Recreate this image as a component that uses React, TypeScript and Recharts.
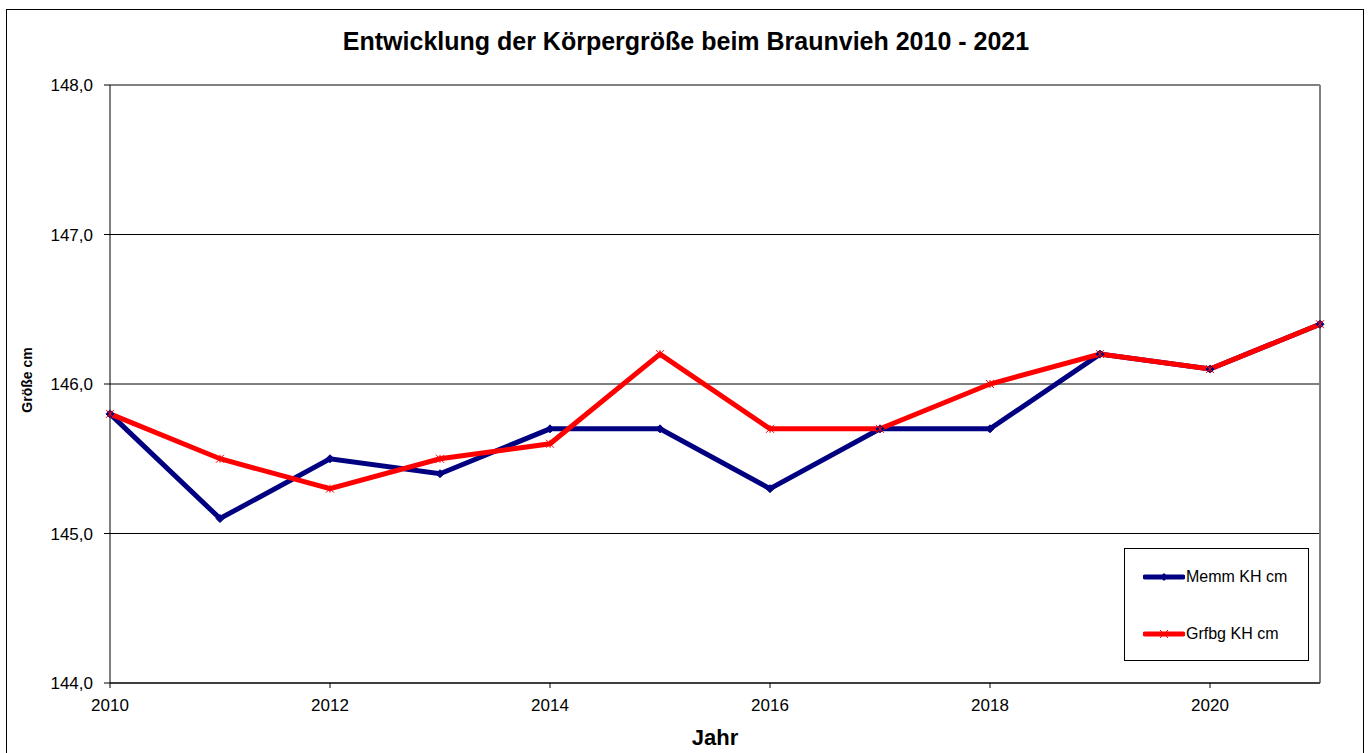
import React from 'react';
import {
    LineChart,
    Line,
    XAxis,
    YAxis,
    CartesianGrid,
    ReferenceLine,
    Legend,
    Label
} from 'recharts';

const years = [2010, 2011, 2012, 2013, 2014, 2015, 2016, 2017, 2018, 2019, 2020, 2021];
const memmKH = [145.8, 145.1, 145.5, 145.4, 145.7, 145.7, 145.3, 145.7, 145.7, 146.2, 146.1, 146.4];
const grfbgKH = [145.8, 145.5, 145.3, 145.5, 145.6, 146.2, 145.7, 145.7, 146.0, 146.2, 146.1, 146.4];
const xTicks = [2010, 2012, 2014, 2016, 2018, 2020];
const yTicks = [144, 145, 146, 147, 148];

const NAVY = '#000080';
const RED = '#ff0000';
const FONT = '"Liberation Sans", Arial, sans-serif';

const chartData = years.map((year, i) => ({ year, memm: memmKH[i], grfbg: grfbgKH[i] }));

// small diamond marker like the Excel one
const DiamondDot = (props: any) => {
    const { cx, cy } = props;
    if (cx == null || cy == null) return <g />;
    return (
        <path
            d={`M${cx},${cy - 4}L${cx + 4},${cy}L${cx},${cy + 4}L${cx - 4},${cy}Z`}
            fill={NAVY}
            stroke={NAVY}
        />
    );
};

// asterisk marker
const StarDot = (props: any) => {
    const { cx, cy } = props;
    if (cx == null || cy == null) return <g />;
    const r = 4;
    return (
        <g stroke={RED} strokeWidth={1}>
            <line x1={cx - r} y1={cy - r} x2={cx + r} y2={cy + r} />
            <line x1={cx - r} y1={cy + r} x2={cx + r} y2={cy - r} />
            <line x1={cx} y1={cy - r} x2={cx} y2={cy + r} />
        </g>
    );
};

const LegendBox = () => {
    const items = [
        { label: 'Memm KH cm', color: NAVY, star: false },
        { label: 'Grfbg KH cm', color: RED, star: true },
    ];
    return (
        <div
            style={{
                width: 185,
                height: 113,
                border: '1px solid #000',
                background: '#fff',
                boxSizing: 'border-box',
                position: 'relative',
                fontFamily: FONT,
                fontSize: 16,
                color: '#000',
            }}
        >
            {items.map((it, i) => (
                <div
                    key={it.label}
                    style={{
                        position: 'absolute',
                        left: 18,
                        top: i === 0 ? 18 : 75,
                        height: 20,
                        display: 'flex',
                        alignItems: 'center',
                        whiteSpace: 'nowrap',
                    }}
                >
                    <svg width={42} height={12} style={{ marginRight: 1 }}>
                        <line x1={2} y1={6} x2={40} y2={6} stroke={it.color} strokeWidth={5} strokeLinecap="round" />
                        {it.star ? (
                            <g stroke={it.color} strokeWidth={1}>
                                <line x1={17} y1={2} x2={25} y2={10} />
                                <line x1={17} y1={10} x2={25} y2={2} />
                            </g>
                        ) : (
                            <path d="M21,2L25,6L21,10L17,6Z" fill={it.color} />
                        )}
                    </svg>
                    <span>{it.label}</span>
                </div>
            ))}
        </div>
    );
};

const fmt = (v: number) => v.toFixed(1).replace('.', ',');

const App: React.FC = () => {
    return (
        <div style={{ position: 'absolute', left: 0, top: 0, width: 1370, height: 753, background: '#fff', overflow: 'hidden' }}>
            {/* outer chart frame */}
            <div
                style={{
                    position: 'absolute',
                    left: 6,
                    top: 9,
                    width: 1356,
                    height: 800,
                    border: '1px solid #000',
                }}
            />
            <div
                style={{
                    position: 'absolute',
                    left: 0,
                    top: 26,
                    width: 1372,
                    textAlign: 'center',
                    fontFamily: FONT,
                    fontWeight: 'bold',
                    fontSize: 25,
                    lineHeight: '30px',
                    color: '#000',
                }}
            >
                Entwicklung der Körpergröße beim Braunvieh 2010 - 2021
            </div>
            <div style={{ position: 'absolute', left: 0, top: 0 }}>
                <LineChart
                    width={1370}
                    height={753}
                    data={chartData}
                    margin={{ top: 85, right: 50, bottom: 40, left: 50 }}
                    style={{ fontFamily: FONT }}
                >
                    <CartesianGrid vertical={false} stroke="#000" strokeWidth={1} />
                    <XAxis
                        dataKey="year"
                        type="number"
                        domain={[2010, 2021]}
                        ticks={xTicks}
                        height={30}
                        stroke="#000"
                        tickSize={5}
                        tickMargin={11}
                        tick={{ fill: '#000', fontSize: 17 }}
                    >
                        <Label
                            value="Jahr"
                            position="bottom"
                            offset={16}
                            style={{ fontWeight: 'bold', fontSize: 22, fill: '#000' }}
                        />
                    </XAxis>
                    <YAxis
                        domain={[144, 148]}
                        ticks={yTicks}
                        width={60}
                        stroke="#000"
                        tickSize={6}
                        tickMargin={11}
                        tickFormatter={fmt}
                        tick={{ fill: '#000', fontSize: 17 }}
                    >
                        <Label
                            content={() => (
                                <text
                                    x={0}
                                    y={0}
                                    transform="translate(32,380) rotate(-90)"
                                    textAnchor="middle"
                                    fontWeight="bold"
                                    fontSize={14}
                                    fill="#000"
                                >
                                    Größe cm
                                </text>
                            )}
                        />
                    </YAxis>
                    {/* grey plot frame on top and right */}
                    <ReferenceLine y={148} stroke="#808080" strokeWidth={2} />
                    <ReferenceLine x={2021} stroke="#808080" strokeWidth={2} />
                    <Line
                        type="linear"
                        dataKey="memm"
                        name="Memm KH cm"
                        stroke={NAVY}
                        strokeWidth={5}
                        dot={<DiamondDot />}
                        activeDot={false}
                        isAnimationActive={false}
                    />
                    <Line
                        type="linear"
                        dataKey="grfbg"
                        name="Grfbg KH cm"
                        stroke={RED}
                        strokeWidth={5}
                        dot={<StarDot />}
                        activeDot={false}
                        isAnimationActive={false}
                    />
                    <Legend
                        layout="vertical"
                        align="center"
                        verticalAlign="middle"
                        content={<LegendBox />}
                        wrapperStyle={{ left: 1124, top: 548, width: 186, height: 115 }}
                    />
                </LineChart>
            </div>
        </div>
    );
};

export default App;
